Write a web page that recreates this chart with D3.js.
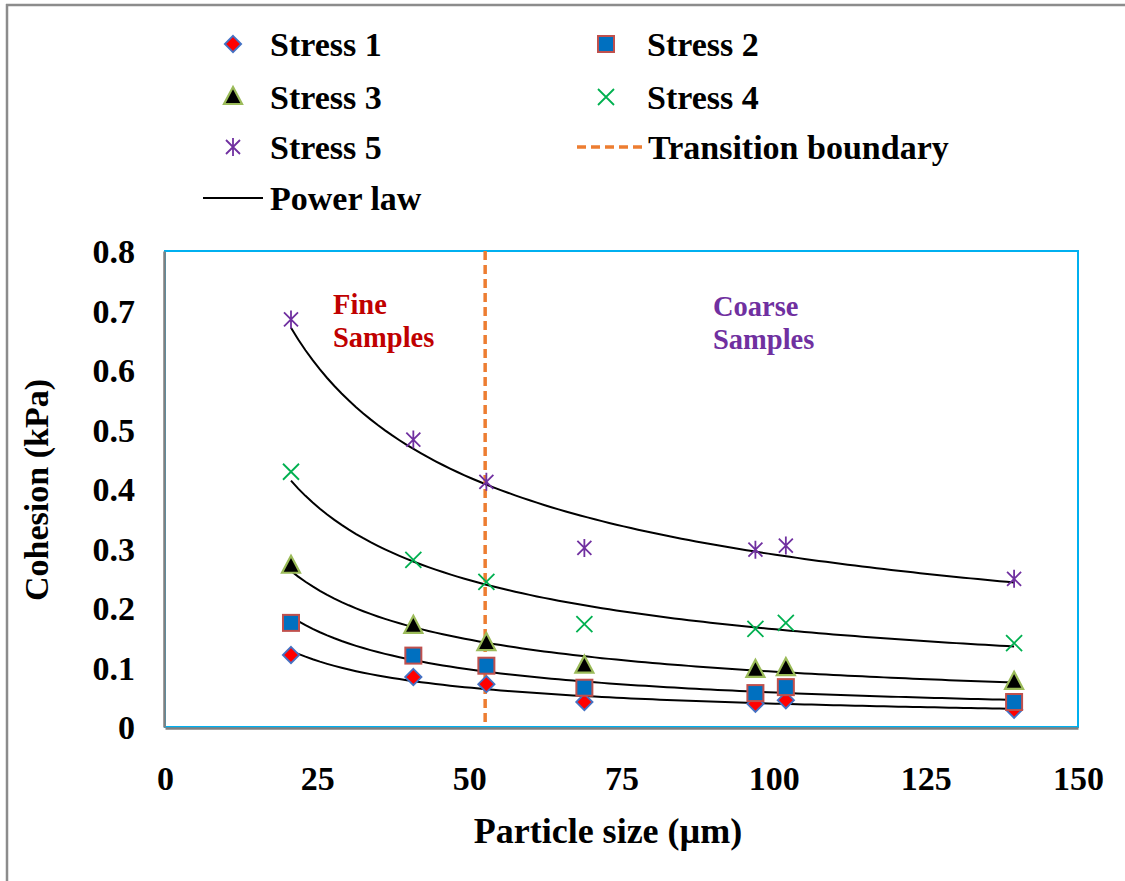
<!DOCTYPE html>
<html>
<head>
<meta charset="utf-8">
<script src="https://cdn.jsdelivr.net/npm/d3@7"></script>
<style>
  html, body { margin: 0; padding: 0; background: #fff; }
  svg { display: block; }
  text { font-family: "Liberation Serif", "Times New Roman", serif; font-weight: bold; }
</style>
</head>
<body>
<svg id="chart" width="1125" height="881"></svg>
<script>
// ---- data ----
const particleSize = [20.7, 40.8, 52.8, 68.9, 97.0, 102.0, 139.5];
const stress1 = [0.121, 0.084, 0.072, 0.042, 0.039, 0.045, 0.029];
const stress2 = [0.175, 0.120, 0.103, 0.066, 0.057, 0.067, 0.042];
const stress3 = [0.271, 0.170, 0.141, 0.103, 0.096, 0.099, 0.076];
const stress4 = [0.429, 0.281, 0.244, 0.173, 0.165, 0.175, 0.141];
const stress5 = [0.685, 0.483, 0.412, 0.301, 0.298, 0.305, 0.249];
const seriesNames = ["Stress 1", "Stress 2", "Stress 3", "Stress 4", "Stress 5"];
const transitionX = 52.6;
const xTicks = [0, 25, 50, 75, 100, 125, 150];
const yTicks = [0, 0.1, 0.2, 0.3, 0.4, 0.5, 0.6, 0.7, 0.8];

const allSeries = [stress1, stress2, stress3, stress4, stress5];

const svg = d3.select("#chart");
const W = 1125, H = 881;

// outer frame (left + top)
svg.append("line").attr("x1", 7).attr("x2", 7).attr("y1", 4).attr("y2", H).attr("stroke", "#8c8c8c").attr("stroke-width", 2.5);
svg.append("line").attr("x1", 6).attr("x2", W).attr("y1", 5).attr("y2", 5).attr("stroke", "#8c8c8c").attr("stroke-width", 2.5);

const plot = { left: 165, right: 1078, top: 251, bottom: 727 };
const x = d3.scaleLinear().domain([0, 150]).range([plot.left, plot.right]);
const y = d3.scaleLinear().domain([0, 0.8]).range([plot.bottom, plot.top]);

// plot border (blue)
svg.append("rect").attr("x", plot.left).attr("y", plot.top)
  .attr("width", plot.right - plot.left).attr("height", plot.bottom - plot.top)
  .attr("fill", "none").attr("stroke", "#00B0F0").attr("stroke-width", 2);

// axes (gray lines, no ticks)
const xAxis = d3.axisBottom(x).tickValues(xTicks).tickSize(0).tickPadding(0).tickFormat(d3.format("d"));
const yAxis = d3.axisLeft(y).tickValues(yTicks).tickSize(0).tickFormat(d => d === 0 ? "0" : d3.format(".1f")(d));

const gx = svg.append("g").attr("transform", `translate(0,${plot.bottom + 1})`).call(xAxis);
gx.select(".domain").attr("stroke", "#808080").attr("stroke-width", 2.5);
gx.selectAll("text").attr("dy", null).attr("y", 62).attr("font-size", 34).attr("fill", "#000")
  .style("font-family", "'Liberation Serif', serif").style("font-weight", "bold");

const gy = svg.append("g").attr("transform", `translate(${plot.left - 1},0)`).call(yAxis);
gy.select(".domain").attr("stroke", "#808080").attr("stroke-width", 2.5);
gy.selectAll("text").attr("x", -29).attr("dy", "0.34em").attr("font-size", 34).attr("fill", "#000")
  .style("font-family", "'Liberation Serif', serif").style("font-weight", "bold");

// axis titles
svg.append("text").attr("x", 608).attr("y", 843)
  .attr("text-anchor", "middle").attr("font-size", 36).text("Particle size (µm)");
svg.append("text").attr("transform", `translate(48,490) rotate(-90)`)
  .attr("text-anchor", "middle").attr("font-size", 34).text("Cohesion (kPa)");

// region labels
const fine = svg.append("text").attr("font-size", 28.5).attr("fill", "#C00000");
fine.append("tspan").attr("x", 333).attr("y", 314).text("Fine");
fine.append("tspan").attr("x", 333).attr("y", 347).text("Samples");
const coarse = svg.append("text").attr("font-size", 28.5).attr("fill", "#7030A0");
coarse.append("tspan").attr("x", 713).attr("y", 316).text("Coarse");
coarse.append("tspan").attr("x", 713).attr("y", 349).text("Samples");

// power law fits (log-log least squares, like a spreadsheet power trendline)
function powerFit(xs, ys) {
  const lx = xs.map(Math.log), ly = ys.map(Math.log);
  const n = xs.length;
  const mx = d3.mean(lx), my = d3.mean(ly);
  let sxy = 0, sxx = 0;
  for (let i = 0; i < n; i++) { sxy += (lx[i] - mx) * (ly[i] - my); sxx += (lx[i] - mx) ** 2; }
  const b = sxy / sxx;
  const a = Math.exp(my - b * mx);
  return v => a * Math.pow(v, b);
}
const xMin = d3.min(particleSize), xMax = d3.max(particleSize);
const line = d3.line().x(d => x(d[0])).y(d => y(d[1])).curve(d3.curveLinear);
allSeries.forEach(s => {
  const f = powerFit(particleSize, s);
  const pts = d3.range(0, 101).map(i => { const v = xMin + (xMax - xMin) * i / 100; return [v, f(v)]; });
  svg.append("path").datum(pts).attr("d", line).attr("fill", "none").attr("stroke", "#000").attr("stroke-width", 2);
});

// transition boundary
svg.append("line").attr("x1", x(transitionX)).attr("x2", x(transitionX))
  .attr("y1", plot.top).attr("y2", plot.bottom)
  .attr("stroke", "#ED7D31").attr("stroke-width", 3.5).attr("stroke-dasharray", "9,5");

// marker drawers
const markers = [
  (g) => g.append("path").attr("d", d3.symbol(d3.symbolDiamond2, 170)()).attr("fill", "#FF0000").attr("stroke", "#4472C4").attr("stroke-width", 1.8),
  (g) => g.append("rect").attr("x", -8).attr("y", -8).attr("width", 16).attr("height", 16).attr("fill", "#0070C0").attr("stroke", "#C0504D").attr("stroke-width", 2),
  (g) => g.append("path").attr("d", "M0,-10L9,7L-9,7Z").attr("fill", "#000").attr("stroke", "#9BBB59").attr("stroke-width", 2.2),
  (g) => g.append("path").attr("d", "M-8,-8L8,8M-8,8L8,-8").attr("fill", "none").attr("stroke", "#00B050").attr("stroke-width", 1.8),
  (g) => g.append("path").attr("d", "M-7,-7L7,7M-7,7L7,-7M0,-9L0,9").attr("fill", "none").attr("stroke", "#7030A0").attr("stroke-width", 1.8)
];

allSeries.forEach((s, si) => {
  const g = svg.append("g");
  s.forEach((v, i) => {
    const mg = g.append("g").attr("transform", `translate(${x(particleSize[i])},${y(v)})`);
    markers[si](mg);
  });
});

// legend
const legendItems = [
  { name: seriesNames[0], type: 0, mx: 233, tx: 270, y: 44 },
  { name: seriesNames[1], type: 1, mx: 606, tx: 647, y: 44 },
  { name: seriesNames[2], type: 2, mx: 233, tx: 270, y: 97 },
  { name: seriesNames[3], type: 3, mx: 606, tx: 647, y: 97 },
  { name: seriesNames[4], type: 4, mx: 233, tx: 270, y: 147 },
  { name: "Transition boundary", type: "dash", mx: 610, tx: 648, y: 147 },
  { name: "Power law", type: "line", mx: 233, tx: 270, y: 198 }
];
legendItems.forEach(it => {
  const g = svg.append("g");
  if (typeof it.type === "number") {
    const mg = g.append("g").attr("transform", `translate(${it.mx},${it.y})`);
    markers[it.type](mg);
  } else if (it.type === "dash") {
    g.append("line").attr("x1", 577).attr("x2", 643).attr("y1", it.y).attr("y2", it.y)
      .attr("stroke", "#ED7D31").attr("stroke-width", 3.5).attr("stroke-dasharray", "9,5");
  } else {
    g.append("line").attr("x1", 203).attr("x2", 263).attr("y1", it.y).attr("y2", it.y)
      .attr("stroke", "#000").attr("stroke-width", 2);
  }
  g.append("text").attr("x", it.tx).attr("y", it.y + 12).attr("font-size", 34).text(it.name);
});
</script>
</body>
</html>
